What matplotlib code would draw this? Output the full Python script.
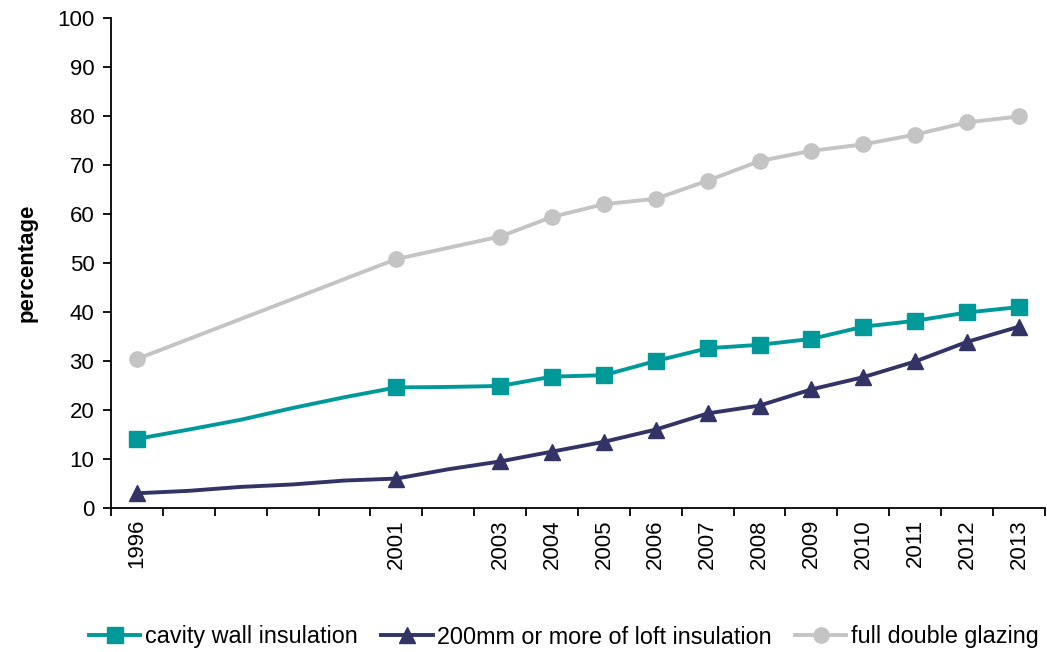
import numpy as np
import matplotlib.pyplot as plt

plt.rcParams['font.family'] = ['Liberation Sans', 'DejaVu Sans']

# years on the category axis (1996..2013)
years = list(range(1996, 2014))
labelled_years = [1996, 2001, 2003, 2004, 2005, 2006, 2007, 2008, 2009, 2010, 2011, 2012, 2013]

# cavity wall insulation (every year, markers only on survey years)
cavity = [14.1, 16.0, 18.0, 20.4, 22.6, 24.6, 24.7, 24.9, 26.8, 27.1,
          30.0, 32.6, 33.3, 34.5, 37.0, 38.2, 39.9, 41.0]
# 200mm or more of loft insulation
loft = [3.0, 3.5, 4.3, 4.8, 5.6, 6.0, 7.9, 9.5, 11.5, 13.5,
        16.0, 19.3, 20.9, 24.2, 26.7, 29.9, 33.9, 37.0]
# full double glazing (survey years only)
glazing_years = labelled_years
glazing = [30.4, 50.8, 55.4, 59.4, 62.0, 63.1, 66.8, 70.8, 72.9, 74.2, 76.2, 78.7, 79.9]

series_names = ['cavity wall insulation', '200mm or more of loft insulation', 'full double glazing']
colors = ['#009999', '#333366', '#C4C4C4']

fig = plt.figure(figsize=(10.47, 6.52), dpi=100)
ax = fig.add_axes([0.106, 0.2209, 0.892, 0.7515])

x_all = np.arange(len(years))
mark_idx = [years.index(y) for y in labelled_years]
x_glaz = [years.index(y) for y in glazing_years]

ax.plot(x_all, cavity, color=colors[0], lw=2.8, marker='s', ms=11,
        markevery=mark_idx, label=series_names[0])
ax.plot(x_all, loft, color=colors[1], lw=2.8, marker='^', ms=12,
        markevery=mark_idx, label=series_names[1])
ax.plot(x_glaz, glazing, color=colors[2], lw=2.8, marker='o', ms=11,
        label=series_names[2])

ax.set_xlim(-0.5, len(years) - 0.5)
ax.set_ylim(0, 100)
ax.set_yticks(range(0, 101, 10))

# tick marks between categories, labels at category centres
ax.set_xticks(np.arange(-0.5, len(years), 1.0))
ax.set_xticklabels([])
ax.set_xticks(mark_idx, minor=True)
ax.set_xticklabels([str(y) for y in labelled_years], minor=True, rotation=90)
ax.tick_params(axis='x', which='minor', length=0, pad=8, labelsize=16)
ax.tick_params(axis='x', which='major', length=6, width=1.3, direction='out')
ax.tick_params(axis='y', length=6, width=1.3, direction='out', labelsize=16, pad=6)

for side in ['top', 'right']:
    ax.spines[side].set_visible(False)
for side in ['left', 'bottom']:
    ax.spines[side].set_linewidth(1.3)

ax.set_ylabel('percentage', fontsize=16, fontweight='bold', labelpad=14)

fig.legend(loc='center', bbox_to_anchor=(564 / 1047, 1 - 637 / 652), ncol=3,
           frameon=False, fontsize=16.8, handlelength=2.2, columnspacing=1.0,
           handletextpad=0.2)

fig.savefig('out.png', dpi=100)
